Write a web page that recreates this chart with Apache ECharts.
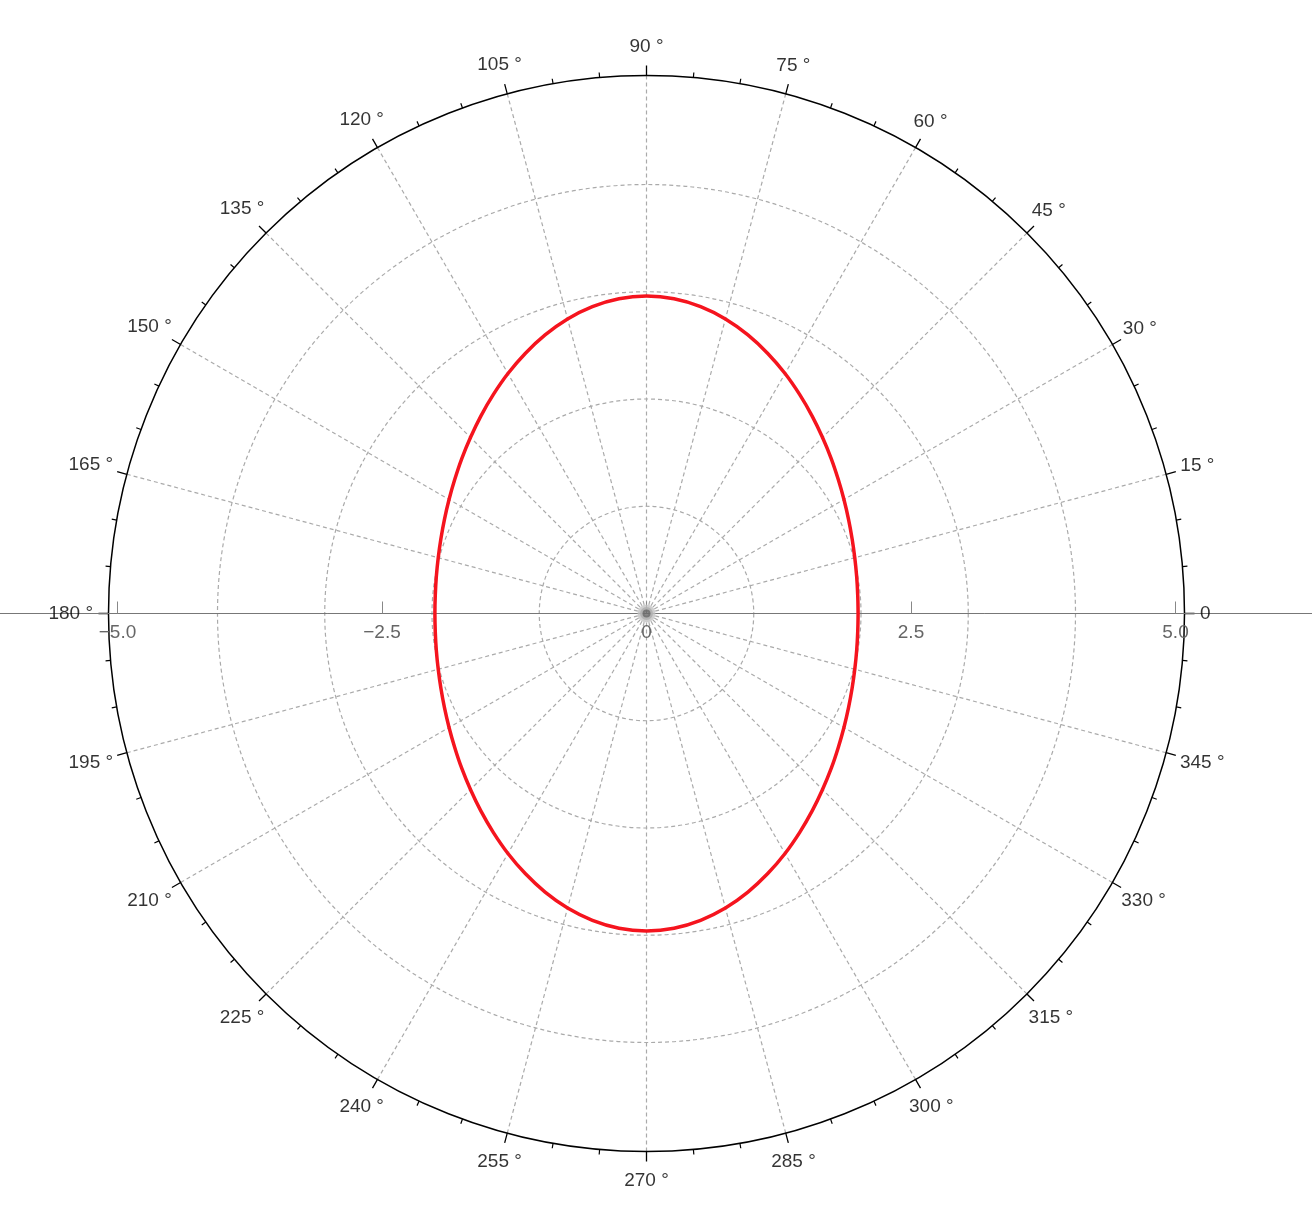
<!DOCTYPE html>
<html>
<head>
<meta charset="utf-8">
<script src="https://cdn.jsdelivr.net/npm/echarts@6/dist/echarts.min.js"></script>
<style>
html,body{margin:0;padding:0;background:#fff;}
#c{width:1312px;height:1222px;}
</style>
</head>
<body>
<div id="c"></div>
<script>
// Angles (degrees) and radius values
var angles = [0,5,10,15,20,25,30,35,40,45,50,55,60,65,70,75,80,85,90,
  95,100,105,110,115,120,125,130,135,140,145,150,155,160,165,170,175,180,
  185,190,195,200,205,210,215,220,225,230,235,240,245,250,255,260,265,270,
  275,280,285,290,295,300,305,310,315,320,325,330,335,340,345,350,355,360];
var radii = [2.000,2.004,2.017,2.038,2.068,2.107,2.155,2.212,2.279,2.353,2.436,2.525,2.619,2.712,2.802,2.882,2.945,2.986,3.000,
  2.986,2.945,2.882,2.802,2.712,2.619,2.525,2.436,2.353,2.279,2.212,2.155,2.107,2.068,2.038,2.017,2.004,2.000,
  2.004,2.017,2.038,2.068,2.107,2.155,2.212,2.279,2.353,2.436,2.525,2.619,2.712,2.802,2.882,2.945,2.986,3.000,
  2.986,2.945,2.882,2.802,2.712,2.619,2.525,2.436,2.353,2.279,2.212,2.155,2.107,2.068,2.038,2.017,2.004,2.000];
var angleTicks = [0,15,30,45,60,75,90,105,120,135,150,165,180,195,210,225,240,255,270,285,300,315,330,345];
var angleTickLabels = ['0','15 °','30 °','45 °','60 °','75 °','90 °','105 °','120 °','135 °','150 °','165 °',
  '180 °','195 °','210 °','225 °','240 °','255 °','270 °','285 °','300 °','315 °','330 °','345 °'];
var radialTicks = [-5, -2.5, 0, 2.5, 5];
var gridCircles = [0, 1, 2, 3, 4];
var origin = [[0, 0]];

var CX = 646.5, CY = 613.5, UNIT = 105.8, OUTER = 538, GRID_R = 429;
var FONT = "'Liberation Sans', Arial, Helvetica, sans-serif";
var FS = 19;
var dashStyle = {color: '#aaaaaa', width: 1.2, type: [4, 3]};

// label placement (layout only): centre of each label kept clear of the outer circle
var ctx = document.createElement('canvas').getContext('2d');
ctx.font = FS + "px 'Liberation Sans'";
var labelPts = angleTicks.map(function (a, i) {
  var t = a * Math.PI / 180;
  var hw = ctx.measureText(angleTickLabels[i]).width / 2;
  var hh = 13.5;
  var rpx = 553.5 + Math.sqrt(Math.pow(Math.cos(t) * hw, 2) + Math.pow(Math.sin(t) * hh, 2));
  return {value: [rpx / UNIT, a], name: angleTickLabels[i]};
});

var curve = angles.map(function (a, i) { return [radii[i], a]; });

var chart = echarts.init(document.getElementById('c'));
chart.setOption({
  animation: false,
  backgroundColor: '#ffffff',
  polar: [
    {center: [CX, CY], radius: OUTER},
    {center: [CX, CY], radius: GRID_R}
  ],
  angleAxis: [
    {
      polarIndex: 0, type: 'value', min: 0, max: 360, interval: 15,
      startAngle: 0, clockwise: false,
      axisLine: {show: true, lineStyle: {color: '#000', width: 1.5}},
      axisTick: {show: true, inside: false, length: 10, lineStyle: {color: '#000', width: 1.3}},
      minorTick: {show: true, splitNumber: 3, length: 5, lineStyle: {color: '#000', width: 1.2}},
      axisLabel: {show: false},
      splitLine: {show: true, lineStyle: dashStyle},
      minorSplitLine: {show: false}
    },
    {polarIndex: 1, type: 'value', min: 0, max: 360, startAngle: 0, clockwise: false, show: false}
  ],
  radiusAxis: [
    {polarIndex: 0, type: 'value', min: 0, max: OUTER / UNIT, show: false},
    {
      polarIndex: 1, type: 'value', min: 0, max: gridCircles[gridCircles.length - 1], interval: 1,
      axisLine: {show: false}, axisTick: {show: false}, axisLabel: {show: false},
      splitLine: {show: true, lineStyle: dashStyle}
    }
  ],
  grid: {left: 0, right: 0, top: 0, bottom: 1222 - CY, containLabel: false},
  xAxis: {
    type: 'value', min: -CX / UNIT, max: (1312 - CX) / UNIT,
    axisLine: {show: true, lineStyle: {color: '#777', width: 1}},
    axisTick: {show: true, inside: true, length: 12, customValues: radialTicks, lineStyle: {color: '#888', width: 1}},
    axisLabel: {
      show: true, customValues: radialTicks, margin: 10, color: '#666', fontSize: FS, fontFamily: FONT,
      formatter: function (v) {
        if (v === 0) return '0';
        return (v < 0 ? '\u2212' : '') + Math.abs(v).toFixed(1);
      }
    },
    splitLine: {show: false}
  },
  yAxis: {type: 'value', min: 0, max: 1, show: false},
  series: [
    {
      type: 'line', coordinateSystem: 'polar', polarIndex: 0,
      data: curve, symbol: 'none', smooth: 0.4, z: 5,
      lineStyle: {color: '#f5141e', width: 3.5}
    },
    {
      type: 'scatter', xAxisIndex: 0, yAxisIndex: 0, data: origin, clip: false,
      symbol: 'circle', symbolSize: 13, z: 6, silent: true,
      itemStyle: {color: '#6a6a6a', borderColor: '#c2c2c2', borderWidth: 5}
    },
    {
      type: 'scatter', coordinateSystem: 'polar', polarIndex: 0, data: labelPts, clip: false,
      symbolSize: 0, silent: true, z: 7,
      itemStyle: {color: '#000'},
      label: {
        show: true, position: 'inside', color: '#000', fontSize: FS, fontFamily: FONT,
        align: 'center', verticalAlign: 'middle', textBorderWidth: 0, textBorderColor: 'transparent',
        formatter: function (p) { return p.name; }
      }
    }
  ]
});
</script>
</body>
</html>
